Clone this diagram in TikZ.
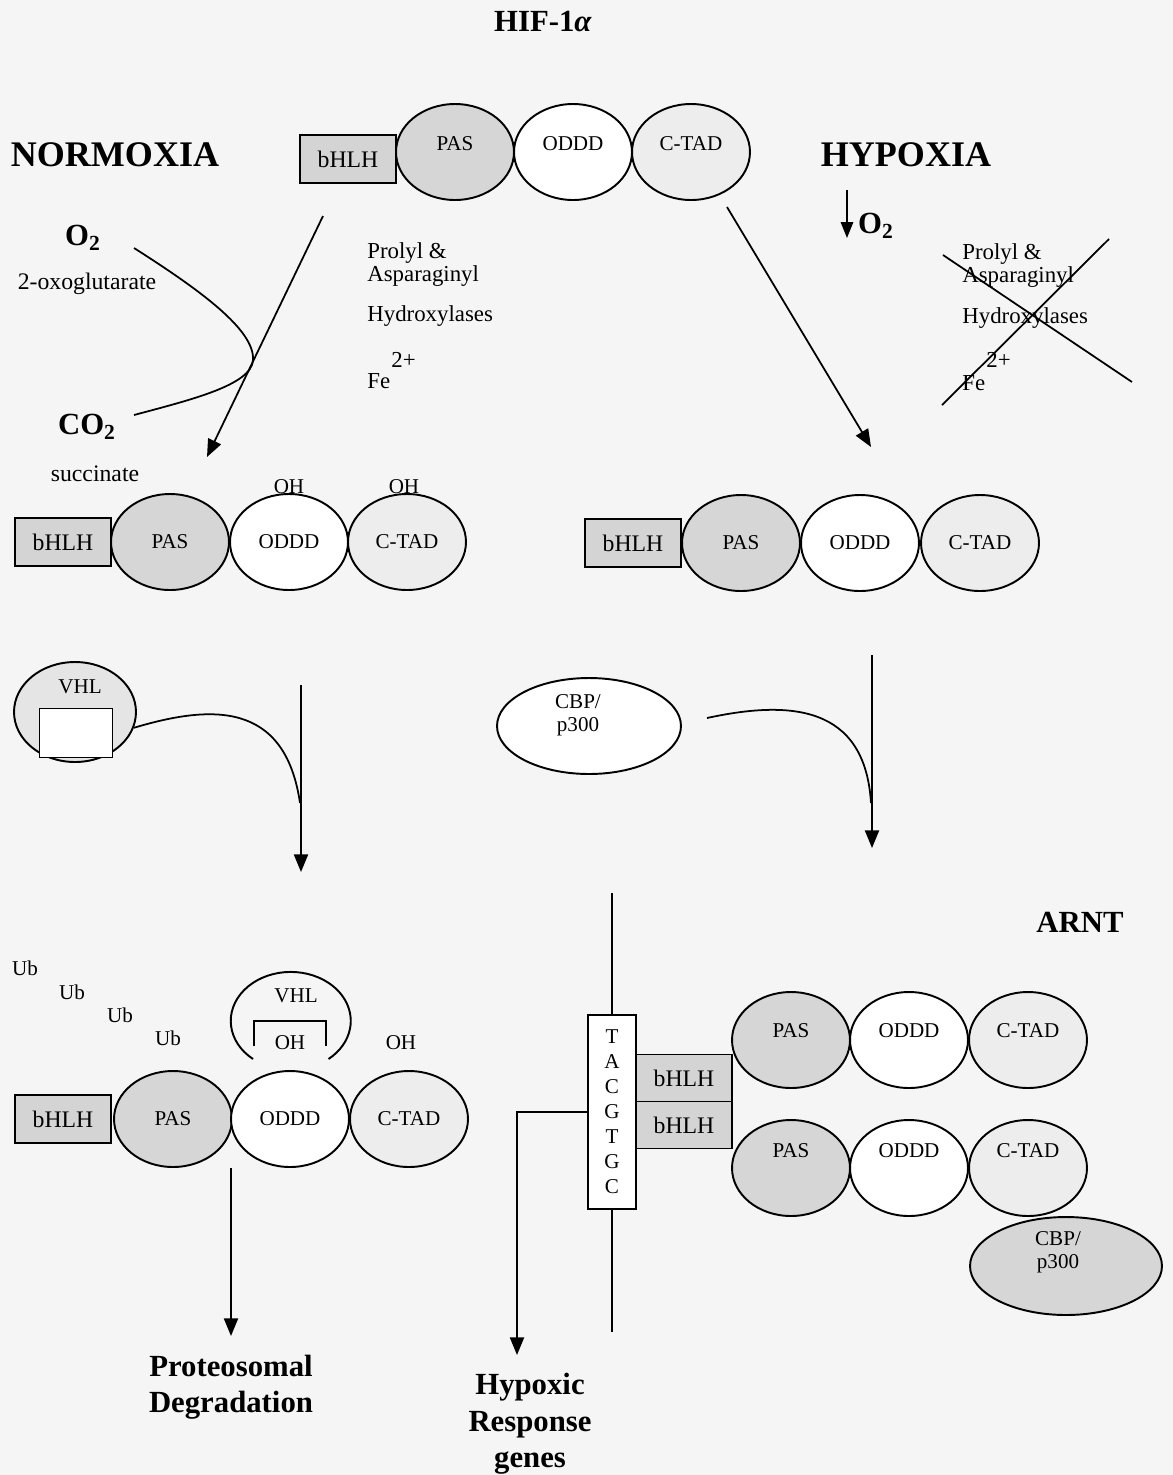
\documentclass[tikz,border=0pt]{standalone}
\usepackage{fontspec}
\setmainfont{Liberation Serif}
\usetikzlibrary{shapes.geometric,arrows.meta}

\begin{document}
\begin{tikzpicture}[x=0.02cm,y=-0.02cm,
  every node/.style={inner sep=0pt},
  txt/.style={font=\fontsize{12}{14}\selectfont},
  enz/.style={font=\fontsize{13}{15}\selectfont,anchor=west},
  small/.style={font=\fontsize{13.5}{16}\selectfont},
  head/.style={font=\bfseries\fontsize{20.5}{24}\selectfont},
  mol/.style={font=\bfseries\fontsize{17.5}{20.7}\selectfont,align=center},
  dom/.style={ellipse,draw,line width=1.1pt,minimum width=2.36cm,minimum height=1.92cm,font=\fontsize{12}{14}\selectfont},
  pas/.style={dom,fill=black!16},
  oddd/.style={dom,fill=white},
  ctad/.style={dom,fill=black!7},
  lift/.style={text height=8pt,text depth=#1},
  bhlh/.style={rectangle,draw,line width=1.1pt,fill=black!17,minimum width=1.92cm,minimum height=0.96cm,font=\fontsize{13.5}{15}\selectfont},
  link/.style={line width=1pt},
  arr/.style={link,-{Triangle[width=8pt,length=10pt]}}
]
\fill[black!4] (0,0) rectangle (1173,1475);
\useasboundingbox (0,0) rectangle (1173,1475);

% titles
\node[mol] (hif) at (543,22) {HIF-1\textit{α}};
\node[head] (norm) at (115,155) {NORMOXIA};
\node[head] (hyp) at (906,155) {HYPOXIA};

% HIF-1a
\node[bhlh] (tbhlh) at (348,159) {bHLH};
\node[pas,lift=10pt] (tpas) at (455,152) {PAS};
\node[oddd,lift=10pt] (toddd) at (573,152) {ODDD};
\node[ctad,lift=10pt] (tctad) at (691,152) {C-TAD};

% normoxia: hydroxylation
\node[mol] (o2) at (83,238) {O\textsubscript{2}};
\node[small] (oxo) at (87,284) {2-oxoglutarate};
\node[mol] (co2) at (87,427) {CO\textsubscript{2}};
\node[small] (succ) at (95,474) {succinate};
\coordinate (o2a) at (134,248);
\coordinate (co2a) at (134,415);
\draw[link] (o2a) .. controls (200,290) and (255,330) .. (253,360)
  .. controls (252,385) and (190,400) .. (co2a);
\coordinate (nfrom) at (323,216);
\coordinate (nto) at (207,457);
\draw[arr] (nfrom) -- (nto);
\node[enz] (nprolyl) at (367,253) {Prolyl \&};
\node[enz] (nasp) at (367,276) {Asparaginyl};
\node[enz] (nhydr) at (367,316) {Hydroxylases};
\node[enz] (nfe) at (367,381) {Fe};
\node[enz] (nfesup) at (391,360) {2+};

% hypoxia: no hydroxylation
\coordinate (ho2from) at (847,190);
\coordinate (ho2to) at (847,238);
\draw[link,-{Triangle[width=7pt,length=9pt]}] (ho2from) -- (ho2to);
\node[mol] (ho2) at (876,226) {O\textsubscript{2}};
\node[enz] (hprolyl) at (962,254) {Prolyl \&};
\node[enz] (hasp) at (962,277) {Asparaginyl};
\node[enz] (hhydr) at (962,318) {Hydroxylases};
\node[enz] (hfe) at (962,383) {Fe};
\node[enz] (hfesup) at (986,360) {2+};
\draw[link] (943,255) -- (1132,382);
\draw[link] (942,405) -- (1109,239);
\coordinate (hfrom) at (727,207);
\coordinate (hto) at (871,447);
\draw[arr] (hfrom) -- (hto);

% normoxia: hydroxylated HIF-1a
\node[bhlh] (nbhlh) at (63,542) {bHLH};
\node[pas] (npas) at (170,542) {PAS};
\node[oddd] (noddd) at (289,542) {ODDD};
\node[ctad] (nctad) at (407,542) {C-TAD};
\node[txt] (noh1) at (289,487) {OH};
\node[txt] (noh2) at (404,487) {OH};

% hypoxia: stable HIF-1a
\node[bhlh] (hbhlh) at (633,543) {bHLH};
\node[pas] (hpas) at (741,543) {PAS};
\node[oddd] (hoddd) at (860,543) {ODDD};
\node[ctad] (hctad) at (980,543) {C-TAD};

% VHL binding
\node[ellipse,draw,line width=1.1pt,fill=black!10,minimum width=2.44cm,minimum height=2cm] (vhl) at (75,712) {};
\node[rectangle,draw,line width=1.1pt,fill=white,minimum width=1.46cm,minimum height=0.98cm] (vhlbox) at (76,733) {};
\node[txt] (vhltxt) at (80,687) {VHL};
\coordinate (vtop) at (301,685);
\coordinate (vbot) at (301,872);
\draw[arr] (vtop) -- (vbot);
\draw[link] (vhl.-15) .. controls (210,705) and (285,700) .. (300,803);

% CBP/p300 binding
\node[ellipse,draw,line width=1.1pt,fill=white,minimum width=3.68cm,minimum height=1.92cm] (hcbp) at (589,726) {};
\node[txt,align=center,font=\fontsize{12}{13}\selectfont] (hcbptxt) at (578,715) {CBP/\\p300};
\coordinate (ctop) at (872,655);
\coordinate (cbot) at (872,848);
\draw[arr] (ctop) -- (cbot);
\coordinate (cfrom) at (707,718);
\draw[link] (cfrom) .. controls (790,700) and (865,705) .. (871,803);

% ubiquitinated HIF-1a
\node[txt] (ub1) at (25,968) {Ub};
\node[txt] (ub2) at (72,992) {Ub};
\node[txt] (ub3) at (120,1015) {Ub};
\node[txt] (ub4) at (168,1038) {Ub};
\node[bhlh] (bbhlh) at (63,1119) {bHLH};
\node[pas] (bpas) at (173,1119) {PAS};
\node[oddd] (boddd) at (290,1119) {ODDD};
\node[ctad] (bctad) at (409,1119) {C-TAD};
\draw[line width=1.1pt] (253,1059) arc[start angle=129,end angle=411,x radius=60,y radius=49];
\draw[line width=1.1pt] (254,1046) -- (254,1021) -- (326,1021) -- (326,1046);
\node[txt] (bvhl) at (296,996) {VHL};
\node[txt] (boh1) at (290,1043) {OH};
\node[txt] (boh2) at (401,1043) {OH};
\coordinate (degfrom) at (231,1168);
\coordinate (degto) at (231,1336);
\draw[arr] (degfrom) -- (degto);
\node[mol] (deg) at (231,1387) {Proteosomal\\Degradation};

% HIF-1 bound to DNA
\node[mol] (arnt) at (1080,922) {ARNT};
\node[rectangle,draw,line width=1.1pt,fill=white,minimum width=0.96cm,minimum height=3.88cm] (dna) at (612,1112) {};
\node[txt,align=center,font=\fontsize{12}{14.2}\selectfont] (hre) at (612,1112) {T\\A\\C\\G\\T\\G\\C};
\coordinate (dnatop) at (612,893);
\coordinate (dnabot) at (612,1332);
\draw[link] (dnatop) -- (dna.north);
\draw[link] (dna.south) -- (dnabot);
\coordinate (hrgto) at (517,1355);
\draw[arr] (dna.west) -| (hrgto);
\node[mol] (hrg) at (530,1424) {Hypoxic\\Response\\genes};
\node[bhlh,minimum height=0.94cm] (abhlh1) at (684,1078) {bHLH};
\node[bhlh,minimum height=0.94cm] (abhlh2) at (684,1125) {bHLH};
\node[pas,lift=11pt] (apas1) at (791,1040) {PAS};
\node[oddd,lift=11pt] (aoddd1) at (909,1040) {ODDD};
\node[ctad,lift=11pt] (actad1) at (1028,1040) {C-TAD};
\node[pas,lift=20pt] (apas2) at (791,1168) {PAS};
\node[oddd,lift=20pt] (aoddd2) at (909,1168) {ODDD};
\node[ctad,lift=20pt] (actad2) at (1028,1168) {C-TAD};
\node[ellipse,draw,line width=1.1pt,fill=black!16,minimum width=3.84cm,minimum height=1.96cm] (acbp) at (1066,1266) {};
\node[txt,align=center,font=\fontsize{12}{13}\selectfont] (acbptxt) at (1058,1252) {CBP/\\p300};
\end{tikzpicture}
\end{document}
